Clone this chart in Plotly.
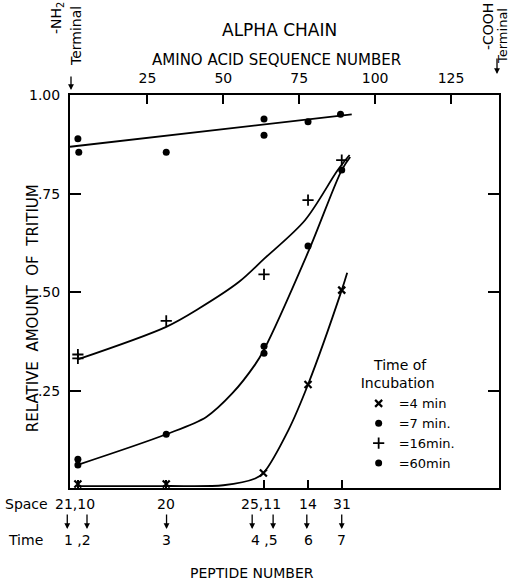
import plotly.graph_objects as go

# ---------------- data (amino-acid sequence scale on x, relative tritium on y) -------------
top_ticks = [25, 50, 75, 100, 125]
y_ticks = [0.25, 0.50, 0.75, 1.00]
y_ticktext = [".25", ".50", ".75", "1.00"]

pep_ticks = [2.1, 31.2, 63.4, 77.9, 89.0]
space_labels = ["21,10", "20", "25,11", "14", "31"]
time_labels = ["1 ,2", "3", "4 ,5", "6", "7"]
pep_arrow_x = [-1.4, 5.1, 31.3, 59.5, 66.4, 77.5, 89.0]

# 4 min (x)
m4_x = [2.1, 31.2, 63.2, 77.9, 89.0]
m4_y = [0.015, 0.015, 0.043, 0.267, 0.506]
c4_x = [1.8, 31.2, 50.0, 60.5, 63.2, 71.4, 77.9, 89.0, 90.8]
c4_y = [0.010, 0.010, 0.012, 0.029, 0.043, 0.151, 0.267, 0.506, 0.550]

# 7 min (dots)
m7_x = [2.1, 2.1, 31.2, 63.4, 63.4, 77.9, 89.0]
m7_y = [0.078, 0.063, 0.141, 0.364, 0.346, 0.618, 0.810]
c7_x = [1.8, 31.2, 44.4, 53.0, 60.5, 63.4, 78.2, 89.0, 91.8]
c7_y = [0.063, 0.141, 0.185, 0.245, 0.318, 0.355, 0.607, 0.810, 0.843]

# 16 min (+)
m16_x = [2.1, 2.1, 31.2, 63.4, 77.9, 89.0]
m16_y = [0.343, 0.333, 0.428, 0.546, 0.734, 0.835]
c16_x = [1.8, 31.2, 42.1, 55.2, 63.4, 76.9, 87.7, 91.6]
c16_y = [0.330, 0.413, 0.460, 0.527, 0.585, 0.683, 0.810, 0.848]

# 60 min (dots)
m60_x = [2.1, 2.4, 31.2, 63.4, 63.4, 77.9, 88.6]
m60_y = [0.889, 0.855, 0.855, 0.939, 0.898, 0.932, 0.951]
f60_x = [-0.5, 92.3]
f60_y = [0.869, 0.951]

legend_names = ["=4 min", "=7 min.", "=16min.", "=60min"]

# ---------------- figure -------------------------------------------------------------------
FONT = "DejaVu Sans"
BLACK = "black"
X_RANGE = [-0.5, 140.8]
Y_RANGE = [0.005, 1.0]

fig = go.Figure()

line_style = dict(color=BLACK, width=1.8)
for cx, cy in [(c4_x, c4_y), (c7_x, c7_y), (c16_x, c16_y)]:
    fig.add_trace(go.Scatter(x=cx, y=cy, mode="lines",
                             line=dict(shape="spline", smoothing=0.9, **line_style),
                             showlegend=False, hoverinfo="skip", cliponaxis=False))
fig.add_trace(go.Scatter(x=f60_x, y=f60_y, mode="lines", line=line_style, showlegend=False,
                         hoverinfo="skip", cliponaxis=False))

marker_specs = [
    (m4_x, m4_y, dict(symbol="x-thin", size=7, line=dict(color=BLACK, width=2.2), color=BLACK)),
    (m7_x, m7_y, dict(symbol="circle", size=7, color=BLACK)),
    (m16_x, m16_y, dict(symbol="cross-thin", size=8, line=dict(color=BLACK, width=1.8), color=BLACK)),
    (m60_x, m60_y, dict(symbol="circle", size=7, color=BLACK)),
]
for i, ((mx, my, mk), name) in enumerate(zip(marker_specs, legend_names)):
    fig.add_trace(go.Scatter(x=mx, y=my, mode="markers", marker=mk, name=name,
                             legendgroup=f"g{i}", cliponaxis=False))

# invisible trace so the top axis (amino-acid numbers) is drawn
fig.add_trace(go.Scatter(x=f60_x, y=f60_y, xaxis="x2", mode="lines", line=dict(width=0),
                         opacity=0, showlegend=False, hoverinfo="skip"))

annotations = []
def txt(text, x, y, size=14, xref="paper", yref="paper", angle=0, **kw):
    annotations.append(dict(text=text, x=x, y=y, xref=xref, yref=yref, showarrow=False,
                            xanchor="center", yanchor="middle",
                            textangle=angle, font=dict(family=FONT, size=size, color=BLACK), **kw))

def px_x(px):
    return (px - 70) / 431.0

def px_y(py):
    return (488 - py) / 393.0

def data_to_paper_x(v):
    return (v - X_RANGE[0]) / (X_RANGE[1] - X_RANGE[0])

txt("ALPHA CHAIN", px_x(280), px_y(30), size=17)
txt("AMINO ACID SEQUENCE NUMBER", px_x(277), px_y(60), size=15)
txt("-NH<sub>2</sub>", px_x(57), px_y(18), size=14, angle=-90)
txt("Terminal", px_x(76), px_y(36), size=14, angle=-90)
txt("-COOH", px_x(490), px_y(27), size=14, angle=-90)
txt("Terminal", px_x(505), px_y(36), size=13, angle=-90)
txt("RELATIVE\u00a0 AMOUNT\u00a0 OF\u00a0 TRITIUM", px_x(33), px_y(308), size=15, angle=-90)
txt("Space", px_x(26), px_y(504), size=14)
txt("Time", px_x(25), px_y(540), size=14)
txt("PEPTIDE NUMBER", px_x(253), px_y(573), size=14)

for lab, xv in zip(space_labels, pep_ticks):
    txt(lab, data_to_paper_x(xv), px_y(504), size=14, xshift=-3 if "," in lab else 0)
for lab, xv in zip(time_labels, pep_ticks):
    txt(lab, data_to_paper_x(xv), px_y(540), size=14)

for xv in pep_arrow_x:
    annotations.append(dict(x=data_to_paper_x(xv), y=px_y(529), xref="paper", yref="paper", text="",
                            showarrow=True, ax=0, ay=-16, arrowhead=2, arrowsize=0.9,
                            arrowwidth=1.3, arrowcolor=BLACK))

# terminal arrows
annotations.append(dict(x=px_x(71), y=px_y(90), xref="paper", yref="paper", text="", showarrow=True,
                        ax=0, ay=-15, arrowhead=2, arrowsize=0.9, arrowwidth=1.3, arrowcolor=BLACK))
annotations.append(dict(x=px_x(499), y=px_y(74), xref="paper", yref="paper", text="", showarrow=True,
                        ax=0, ay=-17, arrowhead=2, arrowsize=0.9, arrowwidth=1.3, arrowcolor=BLACK))

axis_font = dict(family=FONT, size=14, color=BLACK)

fig.update_layout(
    width=512, height=584,
    margin=dict(l=70, r=11, t=95, b=96, pad=0),
    paper_bgcolor="white", plot_bgcolor="white",
    font=dict(family=FONT, size=14, color=BLACK),
    xaxis=dict(range=X_RANGE, tickvals=pep_ticks, ticks="inside", ticklen=8, tickwidth=1.5,
               tickcolor=BLACK, showticklabels=False, showline=True, linecolor=BLACK, linewidth=2,
               showgrid=False, zeroline=False, mirror=False),
    xaxis2=dict(range=X_RANGE, overlaying="x", side="top", tickvals=top_ticks,
                ticktext=[str(t) for t in top_ticks], ticks="inside", ticklen=9, tickwidth=1.5,
                tickcolor=BLACK, showline=True, linecolor=BLACK, linewidth=2, showgrid=False,
                zeroline=False, tickfont=axis_font, ticklabelstandoff=4),
    yaxis=dict(range=Y_RANGE, tickvals=y_ticks, ticktext=y_ticktext, ticks="inside", ticklen=11,
               tickwidth=1.5, tickcolor=BLACK, showline=True, linecolor=BLACK, linewidth=2,
               mirror="ticks", showgrid=False, zeroline=False, tickfont=axis_font,
               ticklabelstandoff=5),
    legend=dict(x=px_x(360), y=px_y(352), xanchor="left", yanchor="top",
                title=dict(text="\u00a0\u00a0\u00a0Time of<br>Incubation", side="top",
                           font=dict(family=FONT, size=14, color=BLACK)),
                font=dict(family=FONT, size=13, color=BLACK), bgcolor="rgba(0,0,0,0)",
                itemwidth=30, tracegroupgap=0, traceorder="normal"),
    annotations=annotations,
    showlegend=True,
)

fig.write_html("out.html", config={"displayModeBar": False},
               post_script="document.body.style.margin='0px';")
